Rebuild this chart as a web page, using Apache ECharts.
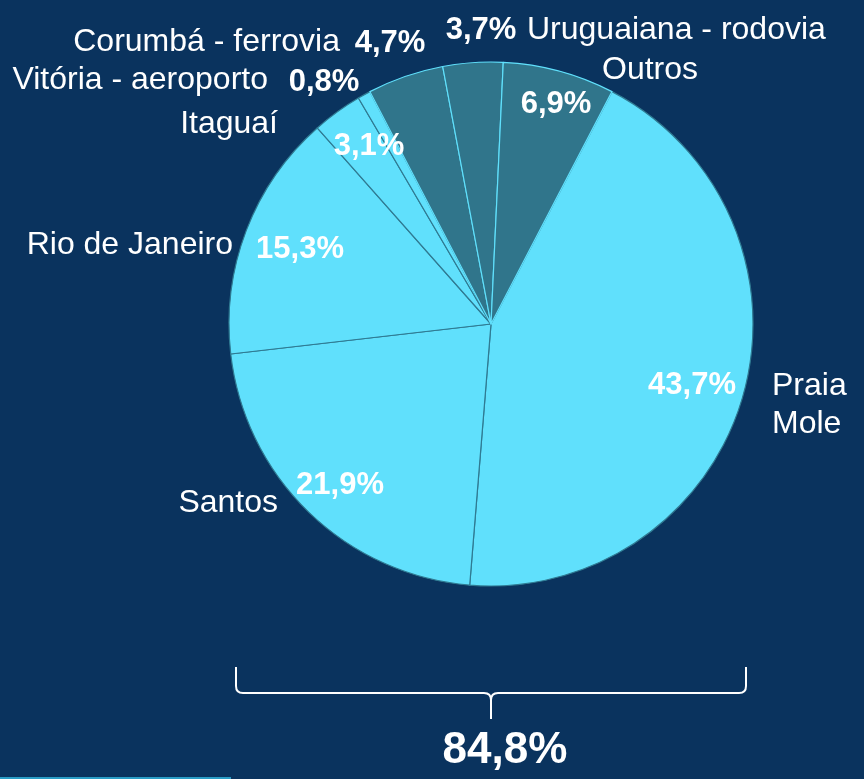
<!DOCTYPE html>
<html>
<head>
<meta charset="utf-8">
<script src="https://cdn.jsdelivr.net/npm/echarts@6/dist/echarts.min.js"></script>
<style>
  html, body { margin: 0; padding: 0; background: #0a335e; }
  #chart { width: 864px; height: 779px; }
</style>
</head>
<body>
<div id="chart"></div>
<script>
// data (clockwise from Praia Mole)
const names = ['Praia\nMole', 'Santos', 'Rio de Janeiro', 'Itaguaí', 'Vitória - aeroporto', 'Corumbá - ferrovia', 'Uruguaiana - rodovia', 'Outros'];
const shares = [43.7, 21.9, 15.3, 3.1, 0.8, 4.7, 3.7, 6.9];
const groups = ['light', 'light', 'light', 'light', 'light', 'dark', 'dark', 'dark'];
const totalText = '84,8%';

const LIGHT = '#60e0fc';
const DARK = '#30758b';
const FONT = 'Liberation Sans, Arial, sans-serif';

// where the labels sit
const pctPos = [[692, 385], [340, 485], [300, 249], [369, 146], [324, 82], [390, 43], [481, 30], [556, 104]];
const namePos = [[772, 405, 'left'], [278, 503, 'right'], [233, 245, 'right'], [278, 124, 'right'],
  [268, 80, 'right'], [340, 42, 'right'], [527, 30, 'left'], [650, 70, 'center']];

const pieData = names.map((n, i) => ({
  name: n,
  value: shares[i],
  itemStyle: {
    color: groups[i] === 'light' ? LIGHT : DARK,
    borderColor: groups[i] === 'light' ? '#2f7a92' : LIGHT,
    borderWidth: 1.2
  }
}));

// curly brace under the pie
const braceStyle = { stroke: '#ffffff', lineWidth: 2, fill: null };
const brace = [
  { type: 'polyline', shape: { points: [[236, 667], [236, 686]] } },
  { type: 'bezierCurve', shape: { x1: 236, y1: 686, cpx1: 236, cpy1: 693, x2: 243, y2: 693 } },
  { type: 'polyline', shape: { points: [[243, 693], [484, 693]] } },
  { type: 'bezierCurve', shape: { x1: 484, y1: 693, cpx1: 491, cpy1: 693, x2: 491, y2: 700 } },
  { type: 'polyline', shape: { points: [[491, 700], [491, 719]] } },
  { type: 'bezierCurve', shape: { x1: 498, y1: 693, cpx1: 491, cpy1: 693, x2: 491, y2: 700 } },
  { type: 'polyline', shape: { points: [[498, 693], [739, 693]] } },
  { type: 'bezierCurve', shape: { x1: 739, y1: 693, cpx1: 746, cpy1: 693, x2: 746, y2: 686 } },
  { type: 'polyline', shape: { points: [[746, 686], [746, 667]] } }
].map(g => Object.assign(g, { style: braceStyle, silent: true }));

const chart = echarts.init(document.getElementById('chart'));
chart.setOption({
  backgroundColor: '#0a335e',
  animation: false,
  series: [
    {
      type: 'pie',
      center: [491, 324],
      radius: [0, 262],
      startAngle: 62.5,
      clockwise: true,
      silent: true,
      data: pieData,
      labelLine: { show: false },
      label: {
        show: true,
        position: 'inside',
        color: '#fff',
        fontFamily: FONT,
        fontWeight: 'bold',
        fontSize: 31,
        formatter: p => String(p.value).replace('.', ',') + '%'
      },
      labelLayout: p => ({
        x: pctPos[p.dataIndex][0],
        y: pctPos[p.dataIndex][1],
        align: 'center',
        verticalAlign: 'middle'
      })
    },
    {
      type: 'pie',
      center: [491, 324],
      radius: [0, 262],
      startAngle: 62.5,
      clockwise: true,
      silent: true,
      data: names.map((n, i) => ({ name: n, value: shares[i] })),
      itemStyle: { color: 'rgba(0,0,0,0)', borderWidth: 0 },
      labelLine: { show: false },
      label: {
        show: true,
        position: 'inside',
        color: '#fff',
        fontFamily: FONT,
        fontSize: 32,
        lineHeight: 38,
        formatter: '{b}'
      },
      labelLayout: p => ({
        x: namePos[p.dataIndex][0],
        y: namePos[p.dataIndex][1],
        align: namePos[p.dataIndex][2],
        verticalAlign: 'middle'
      })
    }
  ],
  graphic: brace.concat([
    {
      type: 'text',
      x: 505, y: 751,
      style: {
        text: totalText,
        fill: '#ffffff',
        font: 'bold 44px ' + FONT,
        align: 'center',
        verticalAlign: 'middle'
      }
    },
    {
      type: 'rect',
      shape: { x: 0, y: 777, width: 231, height: 2 },
      style: { fill: '#2a9dc6' }
    }
  ])
});
</script>
</body>
</html>
